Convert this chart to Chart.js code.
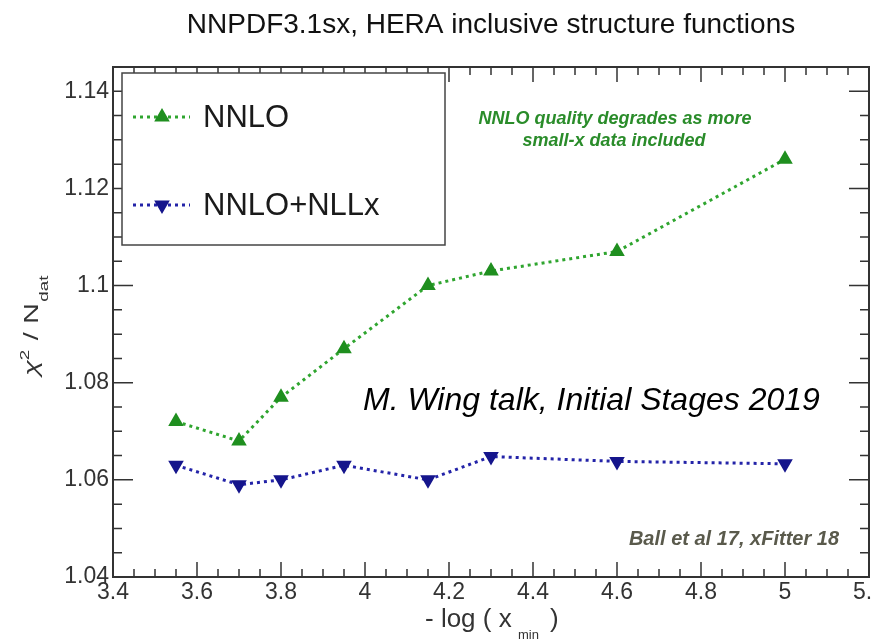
<!DOCTYPE html>
<html>
<head>
<meta charset="utf-8">
<title>NNPDF3.1sx, HERA inclusive structure functions</title>
<script src="https://cdn.jsdelivr.net/npm/chart.js@4.4.1/dist/chart.umd.min.js"></script>
<style>
    body { margin: 0; background: #ffffff; }
    #wrap { width: 872px; height: 642px; }
</style>
</head>
<body>
<div id="wrap"><canvas id="chi2Chart" width="872" height="642"></canvas></div>
<script>
// values
const xMin = [3.55, 3.7, 3.8, 3.95, 4.15, 4.3, 4.6, 5.0];
const nnlo = [1.072, 1.068, 1.077, 1.087, 1.100, 1.103, 1.107, 1.126];
const nnloNllx = [1.063, 1.059, 1.060, 1.063, 1.060, 1.0648, 1.0638, 1.0633];

const xTicks = [3.4, 3.6, 3.8, 4, 4.2, 4.4, 4.6, 4.8, 5, 5.2];
const yTicks = [1.04, 1.06, 1.08, 1.1, 1.12, 1.14];
const seriesNames = ['NNLO', 'NNLO+NLLx'];

const FONT = '"Liberation Sans", Arial, sans-serif';

document.addEventListener('DOMContentLoaded', () => {
    const canvas = document.getElementById('chi2Chart');

    const toPoints = (ys) => xMin.map((x, i) => ({ x: x, y: ys[i] }));

    // axes frame, ticks, labels, legend and notes
    const framePlugin = {
        id: 'frame',
        afterDraw(chart) {
            const ctx = chart.ctx;
            const a = chart.chartArea;
            const xs = chart.scales.x;
            const ys = chart.scales.y;
            ctx.save();

            // frame
            ctx.strokeStyle = '#333333';
            ctx.lineWidth = 2;
            ctx.strokeRect(a.left, a.top, a.right - a.left, a.bottom - a.top);

            // x ticks (bottom + top)
            ctx.lineWidth = 1.5;
            ctx.beginPath();
            for (let v = 3.4; v <= 5.2001; v += 0.05) {
                const px = xs.getPixelForValue(v);
                const major = Math.abs(v * 5 - Math.round(v * 5)) < 1e-6;
                const len = major ? 15 : 8;
                ctx.moveTo(px, a.bottom); ctx.lineTo(px, a.bottom - len);
                ctx.moveTo(px, a.top); ctx.lineTo(px, a.top + len);
            }
            // y ticks (left + right)
            for (let v = 1.04; v <= 1.1451; v += 0.005) {
                const py = ys.getPixelForValue(v);
                const major = Math.abs(v * 50 - Math.round(v * 50)) < 1e-6;
                const len = major ? 20 : 9;
                ctx.moveTo(a.left, py); ctx.lineTo(a.left + len, py);
                ctx.moveTo(a.right, py); ctx.lineTo(a.right - len, py);
            }
            ctx.stroke();

            // tick labels
            ctx.fillStyle = '#333333';
            ctx.font = '23px ' + FONT;
            ctx.textAlign = 'center';
            ctx.textBaseline = 'middle';
            xTicks.forEach(v => {
                ctx.fillText(String(v), xs.getPixelForValue(v), a.bottom + 16);
            });
            ctx.textAlign = 'right';
            yTicks.forEach(v => {
                ctx.fillText(String(v), a.left - 4, ys.getPixelForValue(v));
            });

            // title
            ctx.fillStyle = '#111111';
            ctx.textAlign = 'center';
            ctx.textBaseline = 'alphabetic';
            ctx.font = '28px ' + FONT;
            ctx.fillText('NNPDF3.1sx, HERA inclusive structure functions', 491, 33);

            // x axis title: - log ( x_min )
            ctx.fillStyle = '#333333';
            ctx.textAlign = 'left';
            ctx.font = '26px ' + FONT;
            const ty = 627;
            ctx.fillText('- log ( x', 425, ty);
            ctx.font = '13px ' + FONT;
            ctx.fillText('min', 518, ty + 12);
            ctx.font = '26px ' + FONT;
            ctx.fillText(')', 550, ty);

            // y axis title: chi^2 / N_dat (rotated, stretched along the baseline)
            ctx.save();
            ctx.translate(38, 376);
            ctx.rotate(-Math.PI / 2);
            ctx.scale(1.45, 1);
            ctx.textAlign = 'left';
            let yx = 0;
            ctx.font = 'italic 20px ' + FONT;
            ctx.fillText('\u03c7', yx, 0);
            yx += ctx.measureText('\u03c7').width;
            ctx.font = '13px ' + FONT;
            ctx.fillText('2', yx, -9);
            yx += ctx.measureText('2').width + 1;
            ctx.font = '20px ' + FONT;
            ctx.fillText(' / N', yx, 0);
            yx += ctx.measureText(' / N').width;
            ctx.font = '13px ' + FONT;
            ctx.fillText('dat', yx + 1, 10);
            ctx.restore();

            // legend box
            const lx = 122, ly = 73, lw = 323, lh = 172;
            ctx.fillStyle = '#ffffff';
            ctx.fillRect(lx, ly, lw, lh);
            ctx.strokeStyle = '#444444';
            ctx.lineWidth = 1.5;
            ctx.strokeRect(lx, ly, lw, lh);
            const rows = [117, 205];
            chart.data.datasets.forEach((ds, i) => {
                const cy = rows[i];
                ctx.strokeStyle = ds.borderColor;
                ctx.lineWidth = ds.borderWidth;
                ctx.setLineDash(ds.borderDash);
                ctx.beginPath();
                ctx.moveTo(133, cy);
                ctx.lineTo(190, cy);
                ctx.stroke();
                ctx.setLineDash([]);
                ctx.fillStyle = ds.pointBackgroundColor;
                ctx.strokeStyle = ds.pointBorderColor;
                Chart.helpers.drawPoint(ctx, {
                    pointStyle: ds.pointStyle,
                    rotation: ds.pointRotation,
                    radius: ds.pointRadius,
                    borderWidth: 1
                }, 162, cy);
                ctx.fillStyle = '#1a1a1a';
                ctx.font = '31px ' + FONT;
                ctx.textAlign = 'left';
                ctx.textBaseline = 'middle';
                ctx.fillText(ds.label, 203, cy + 1);
            });

            // notes
            ctx.textAlign = 'center';
            ctx.textBaseline = 'middle';
            ctx.fillStyle = '#2a8c2a';
            ctx.font = 'italic bold 18px ' + FONT;
            ctx.fillText('NNLO quality degrades as more', 615, 119);
            ctx.fillText('small-x data included', 614, 141);

            ctx.fillStyle = '#5a5a4c';
            ctx.font = 'italic bold 20px ' + FONT;
            ctx.textAlign = 'right';
            ctx.fillText('Ball et al 17, xFitter 18', 839, 539);

            ctx.fillStyle = '#000000';
            ctx.font = 'italic 32px ' + FONT;
            ctx.textAlign = 'left';
            ctx.textBaseline = 'alphabetic';
            ctx.fillText('M. Wing talk, Initial Stages 2019', 363, 410);

            ctx.restore();
        }
    };

    const config = {
        type: 'line',
        data: {
            datasets: [
                {
                    label: seriesNames[0],
                    data: toPoints(nnlo),
                    borderColor: '#2fa52f',
                    borderWidth: 3,
                    borderDash: [3, 4],
                    pointStyle: 'triangle',
                    pointRotation: 0,
                    pointRadius: 6,
                    pointBackgroundColor: '#1f8f1f',
                    pointBorderColor: '#1f8f1f',
                    tension: 0
                },
                {
                    label: seriesNames[1],
                    data: toPoints(nnloNllx),
                    borderColor: '#2323a8',
                    borderWidth: 3,
                    borderDash: [3, 4],
                    pointStyle: 'triangle',
                    pointRotation: 180,
                    pointRadius: 6,
                    pointBackgroundColor: '#15158c',
                    pointBorderColor: '#15158c',
                    tension: 0
                }
            ]
        },
        options: {
            responsive: false,
            animation: false,
            layout: {
                autoPadding: false,
                padding: { left: 113, right: 3, top: 67, bottom: 65 }
            },
            scales: {
                x: { type: 'linear', min: 3.4, max: 5.2, display: false },
                y: { type: 'linear', min: 1.04, max: 1.145, display: false }
            },
            plugins: {
                legend: { display: false },
                tooltip: { enabled: false }
            }
        },
        plugins: [framePlugin]
    };

    new Chart(canvas, config);
});
</script>
</body>
</html>
